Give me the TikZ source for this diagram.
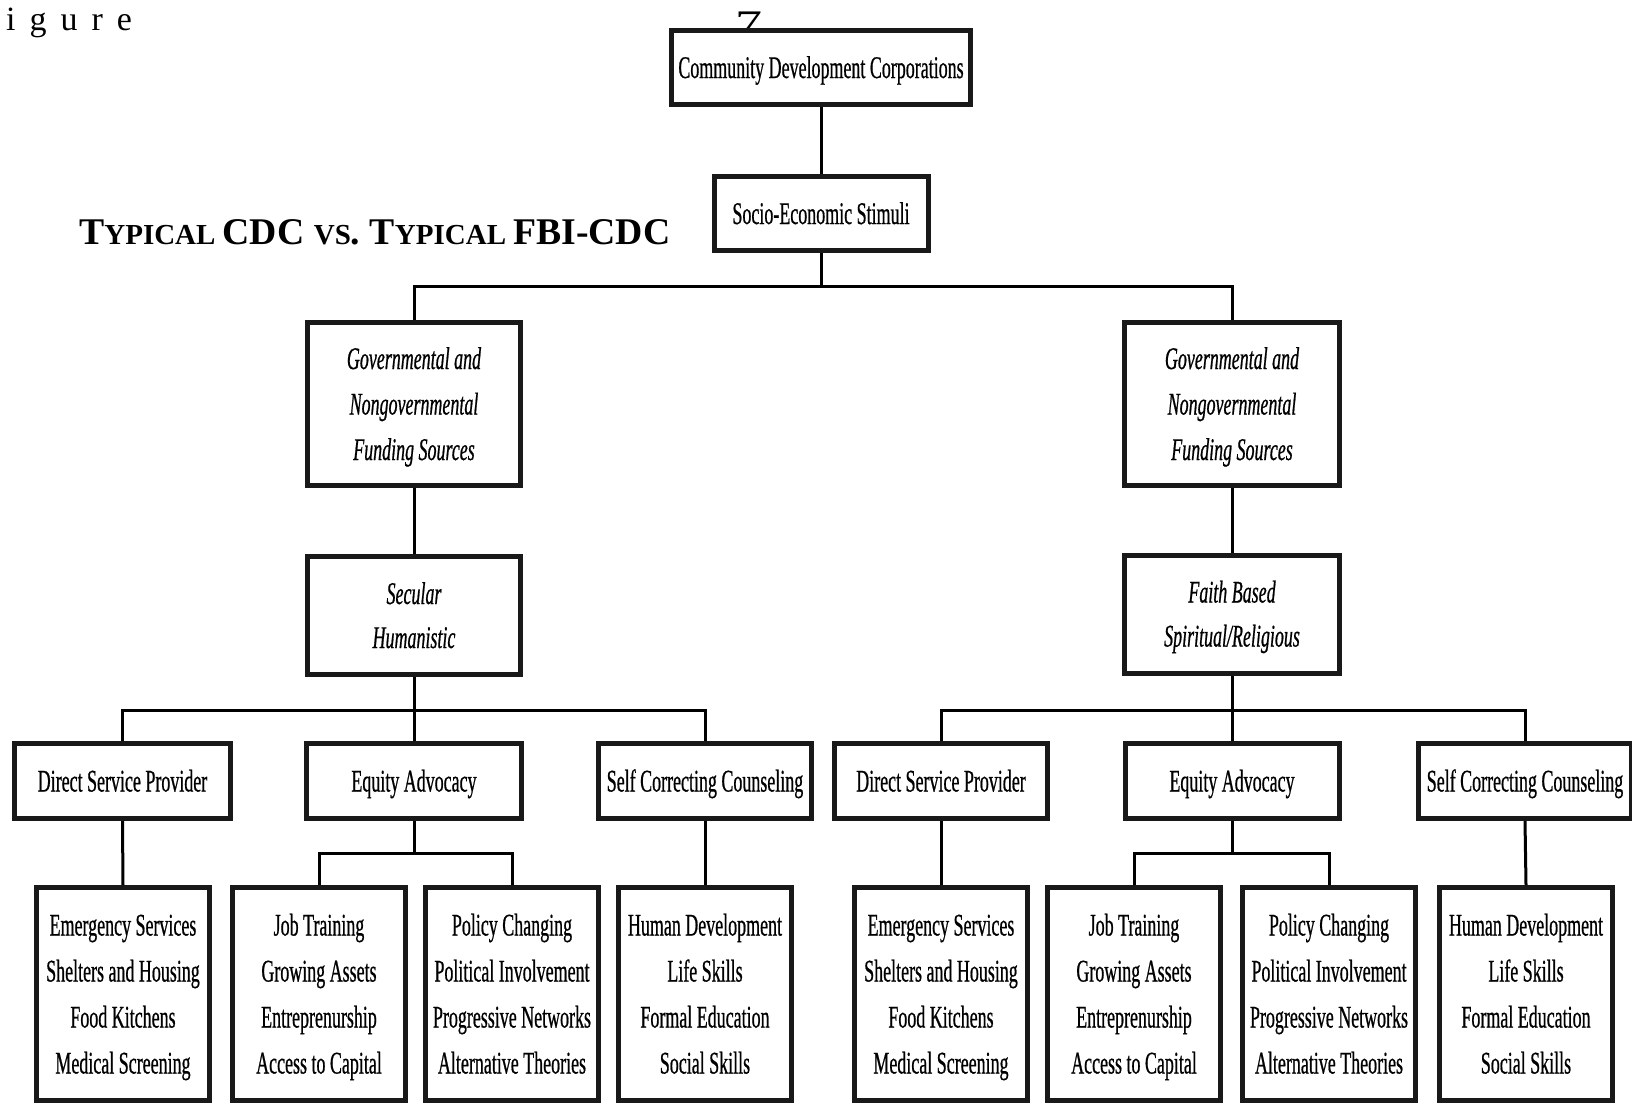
\documentclass[tikz,border=0pt]{standalone}
\usepackage{fontspec}
\usepackage{graphicx}
\setmainfont{Liberation Serif}
\newfontfamily\condfont[FakeStretch=0.57,FakeBold=0.6]{Liberation Serif}
% struts that fix the first baseline and the last depth of every box text
\newcommand\StrutTop{\rule{0pt}{30pt}}
\newcommand\StrutBot{\rule[-9pt]{0pt}{9pt}}
\begin{document}
\begin{tikzpicture}[x=1pt,y=-1pt,
  box/.style={draw=black!90, line width=5pt, fill=white, inner sep=0pt,
    align=center, font={\condfont\fontsize{31.5}{45.5}\selectfont}},
  wide/.style={minimum width=#1-5pt},
  tall/.style={minimum height=#1-5pt},
  ital/.style={font={\condfont\itshape\fontsize{31.5}{#1}\selectfont}},
  leaf/.style={box, wide=178, tall=218, font={\condfont\fontsize{31.5}{46}\selectfont}},
  mid/.style={box, tall=80},
  link/.style={line width=3pt, black}]
\useasboundingbox[fill=white] (0,0) rectangle (1632,1104);

% page header fragments
\node[anchor=base west, inner sep=0pt, font=\fontsize{34}{34}\selectfont]
  (fig) at (6,30) {i\kern14pt g\kern14pt u\kern14pt r\kern14pt e};
\node[anchor=base west, inner sep=0pt, font=\fontsize{36}{36}\selectfont]
  (num) at (735,35) {\scalebox{1.5}[1]{7}};

% title
\node[anchor=base west, inner sep=0pt, font=\bfseries] (title) at (79,244)
  {\fontsize{37.7}{38}\selectfont T\fontsize{29}{29}\selectfont YPICAL
   \fontsize{37.7}{38}\selectfont CDC
   \fontsize{29}{29}\selectfont VS\fontsize{37.7}{38}\selectfont.
   T\fontsize{29}{29}\selectfont YPICAL
   \fontsize{37.7}{38}\selectfont FBI-CDC};

% upper levels
\node[box, wide=304, tall=79] (cdc) at (821,67.5)
  {\StrutTop Community Development Corporations\StrutBot};
\node[box, wide=219, tall=79] (soc) at (821,213.5)
  {\StrutTop Socio-Economic Stimuli\StrutBot};

\node[box, wide=218, tall=168, ital=45.5] (fundL) at (414,404)
  {\StrutTop Governmental and\\Nongovernmental\\Funding Sources\StrutBot};
\node[box, wide=220, tall=168, ital=45.5] (fundR) at (1232,404)
  {\StrutTop Governmental and\\Nongovernmental\\Funding Sources\StrutBot};

\node[box, wide=218, tall=123, ital=44] (secL) at (414,615.5)
  {\StrutTop Secular\\Humanistic\StrutBot};
\node[box, wide=220, tall=123, ital=44] (secR) at (1232,614)
  {\StrutTop Faith Based\\Spiritual/Religious\StrutBot};

% third level
\node[mid, wide=221] (dspL) at (122.5,781) {\StrutTop Direct Service Provider\StrutBot};
\node[mid, wide=220] (eaL)  at (414,781)   {\StrutTop Equity Advocacy\StrutBot};
\node[mid, wide=218] (sccL) at (705,781)   {\StrutTop Self Correcting Counseling\StrutBot};
\node[mid, wide=218] (dspR) at (941,781)   {\StrutTop Direct Service Provider\StrutBot};
\node[mid, wide=219] (eaR)  at (1232,781)  {\StrutTop Equity Advocacy\StrutBot};
\node[mid, wide=218] (sccR) at (1525,781)  {\StrutTop Self Correcting Counseling\StrutBot};

% leaves
\node[leaf] (esL) at (123,994)
  {\StrutTop Emergency Services\\Shelters and Housing\\Food Kitchens\\Medical Screening\StrutBot};
\node[leaf] (jtL) at (319,994)
  {\StrutTop Job Training\\Growing Assets\\Entreprenurship\\Access to Capital\StrutBot};
\node[leaf] (pcL) at (512,994)
  {\StrutTop Policy Changing\\Political Involvement\\Progressive Networks\\Alternative Theories\StrutBot};
\node[leaf] (hdL) at (705,994)
  {\StrutTop Human Development\\Life Skills\\Formal Education\\Social Skills\StrutBot};
\node[leaf] (esR) at (941,994)
  {\StrutTop Emergency Services\\Shelters and Housing\\Food Kitchens\\Medical Screening\StrutBot};
\node[leaf] (jtR) at (1134,994)
  {\StrutTop Job Training\\Growing Assets\\Entreprenurship\\Access to Capital\StrutBot};
\node[leaf] (pcR) at (1329,994)
  {\StrutTop Policy Changing\\Political Involvement\\Progressive Networks\\Alternative Theories\StrutBot};
\node[leaf] (hdR) at (1526,994)
  {\StrutTop Human Development\\Life Skills\\Formal Education\\Social Skills\StrutBot};

% connectors
\draw[link] (cdc.south) -- (soc.north);
\draw[link] (soc.south) -- ++(0,33) -| (fundL.north);
\draw[link] (soc.south) -- ++(0,33) -| (fundR.north);
\draw[link] (fundL.south) -- (secL.north);
\draw[link] (fundR.south) -- (secR.north);

\draw[link] (secL.south) -- ++(0,33) -| (dspL.north);
\draw[link] (secL.south) -- (eaL.north);
\draw[link] (secL.south) -- ++(0,33) -| (sccL.north);
\draw[link] (secR.south) -- ++(0,34.5) -| (dspR.north);
\draw[link] (secR.south) -- (eaR.north);
\draw[link] (secR.south) -- ++(0,34.5) -| (sccR.north);

\draw[link] (dspL.south) -- (esL.north);
\draw[link] (eaL.south) -- ++(0,32) -| (jtL.north);
\draw[link] (eaL.south) -- ++(0,32) -| (pcL.north);
\draw[link] (sccL.south) -- (hdL.north);
\draw[link] (dspR.south) -- (esR.north);
\draw[link] (eaR.south) -- ++(0,32) -| (jtR.north);
\draw[link] (eaR.south) -- ++(0,32) -| (pcR.north);
\draw[link] (sccR.south) -- (hdR.north);
\end{tikzpicture}
\end{document}
